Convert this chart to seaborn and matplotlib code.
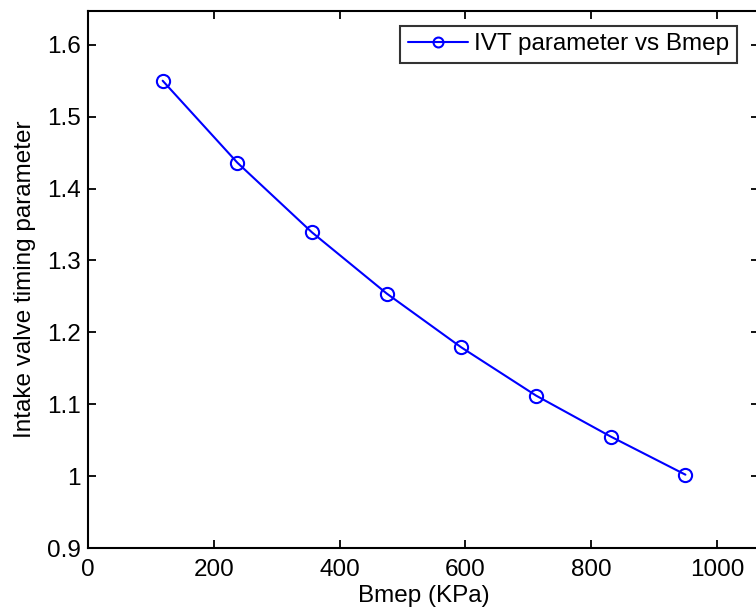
import matplotlib
matplotlib.use("Agg")
import matplotlib.pyplot as plt
import pandas as pd
import seaborn as sns

# Bmep (KPa) and intake valve timing parameter
BMEP = [118.75, 237.5, 356.25, 475.0, 593.75, 712.5, 831.25, 950.0]
IVT = [1.550, 1.436, 1.339, 1.254, 1.179, 1.112, 1.055, 1.002]
X_TICKS = [0, 200, 400, 600, 800, 1000]
Y_TICKS = [0.9, 1.0, 1.1, 1.2, 1.3, 1.4, 1.5, 1.6]
Y_TICK_LABELS = ["0.9", "1", "1.1", "1.2", "1.3", "1.4", "1.5", "1.6"]

sns.set_theme(style="ticks")
plt.rcParams["font.family"] = ["Liberation Sans", "DejaVu Sans"]
plt.rcParams["text.color"] = "black"
plt.rcParams["axes.labelcolor"] = "black"

FS = 17.5

df = pd.DataFrame({"bmep": BMEP, "ivt": IVT})

fig = plt.figure(figsize=(7.56, 6.12), dpi=100)
ax = fig.add_axes([88 / 756, 64 / 612, 671 / 756, 537 / 612])

sns.lineplot(data=df, x="bmep", y="ivt", ax=ax, color="#0000ff",
             linewidth=1.5, marker="o", markersize=9.5,
             markerfacecolor="none", markeredgecolor="#0000ff",
             markeredgewidth=1.5, label="IVT parameter vs Bmep")

ax.set_xlim(0, 1067)
ax.set_ylim(0.9, 1.647)
ax.set_xticks(X_TICKS)
ax.set_yticks(Y_TICKS)
ax.set_yticklabels(Y_TICK_LABELS)
ax.tick_params(direction="in", length=6, width=1.3, top=True, right=True,
               labelsize=FS, colors="black")
ax.tick_params(axis="x", pad=8)
ax.tick_params(axis="y", pad=5)
for sp in ax.spines.values():
    sp.set_visible(True)
    sp.set_linewidth(1.5)
    sp.set_color("black")

ax.set_xlabel("Bmep (KPa)", fontsize=FS, color="black")
ax.set_ylabel("Intake valve timing parameter", fontsize=FS, color="black")
ax.xaxis.set_label_coords(0.5, -0.068)
ax.yaxis.set_label_coords(-0.077, 0.5)

leg = ax.legend(loc="upper right", bbox_to_anchor=(0.967, 0.972),
                borderaxespad=0, fontsize=FS, frameon=True, fancybox=False,
                edgecolor="black", handlelength=2.5, markerscale=0.75,
                borderpad=0.3, handletextpad=0.25)
leg.get_frame().set_linewidth(1.5)
for t in leg.get_texts():
    t.set_color("black")

fig.savefig("out.png", dpi=100)
